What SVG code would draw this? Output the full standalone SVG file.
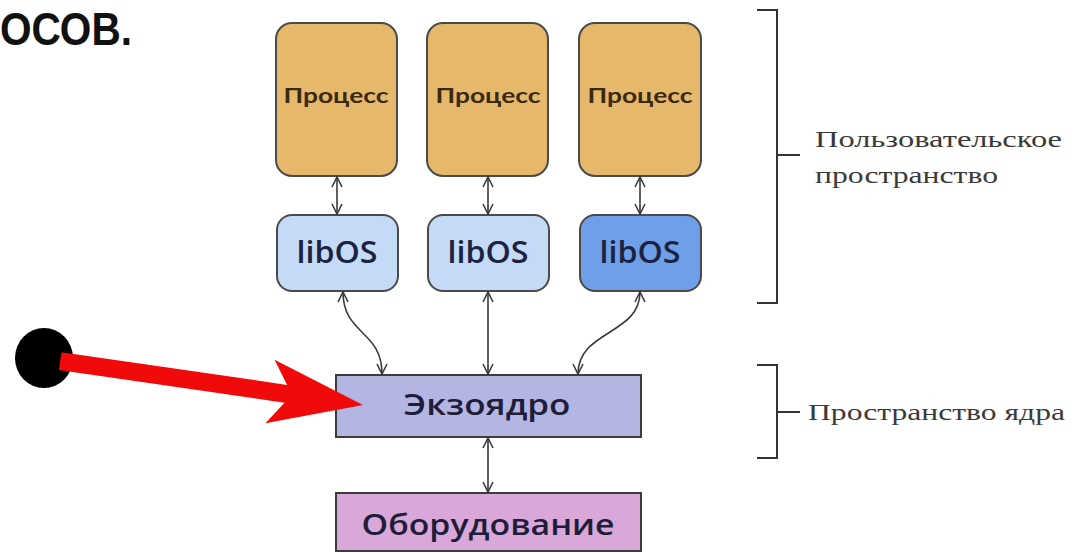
<svg xmlns="http://www.w3.org/2000/svg" width="1082" height="553" viewBox="0 0 1082 553">
<defs>
<marker id="ah" viewBox="0 0 12 12" refX="11" refY="6" markerWidth="12" markerHeight="12" markerUnits="userSpaceOnUse" orient="auto-start-reverse">
<path d="M1,1 L11,6 L1,11" fill="none" stroke="#3a3a3a" stroke-width="1.6"/>
</marker>
<style>
.proc rect{fill:#e6b86c;stroke:#4a4a4a;stroke-width:2}
.proc text{font-family:"Lato","Open Sans",sans-serif;font-weight:bold;font-size:21px;fill:#3a2a12;text-anchor:middle}
.lib rect{stroke:#4a4a4a;stroke-width:2}
.lib text{font-family:"Open Sans","Lato",sans-serif;font-weight:600;font-size:30px;fill:#1c2340;text-anchor:middle}
.big rect{stroke:#3c3c3c;stroke-width:2}
.big text{font-family:"Open Sans","Lato",sans-serif;font-weight:600;font-size:29px;fill:#1e1e3a;text-anchor:middle}
.conn path{fill:none;stroke:#3a3a3a;stroke-width:1.6;marker-start:url(#ah);marker-end:url(#ah)}
.brace{fill:none;stroke:#333;stroke-width:2}
.lbl{font-family:"Liberation Serif","DejaVu Serif",serif;font-size:24px;fill:#3a3a3a}
</style>
</defs>
<rect width="1082" height="553" fill="#ffffff"/>
<text x="0" y="45" font-family="Liberation Sans, Arial, sans-serif" font-weight="bold" font-size="46" fill="#111" textLength="132" lengthAdjust="spacingAndGlyphs">ОСОВ.</text>

<g id="proc1" class="proc"><rect x="276" y="23" width="121" height="153" rx="16"/><text x="336" y="103" textLength="105" lengthAdjust="spacingAndGlyphs">Процесс</text></g>
<g id="proc2" class="proc"><rect x="427" y="23" width="121" height="153" rx="16"/><text x="488" y="103" textLength="105" lengthAdjust="spacingAndGlyphs">Процесс</text></g>
<g id="proc3" class="proc"><rect x="579" y="23" width="122" height="153" rx="16"/><text x="640" y="103" textLength="105" lengthAdjust="spacingAndGlyphs">Процесс</text></g>

<g id="lib1" class="lib"><rect x="277" y="215" width="121" height="76" rx="15" fill="#c4daf6"/><text x="337" y="263" textLength="81" lengthAdjust="spacingAndGlyphs">libOS</text></g>
<g id="lib2" class="lib"><rect x="428" y="215" width="121" height="76" rx="15" fill="#c4daf6"/><text x="488" y="263" textLength="81" lengthAdjust="spacingAndGlyphs">libOS</text></g>
<g id="lib3" class="lib"><rect x="580" y="215" width="121" height="76" rx="15" fill="#6f9fe8"/><text x="640" y="263" textLength="81" lengthAdjust="spacingAndGlyphs">libOS</text></g>

<g id="exo" class="big"><rect x="336" y="375" width="305" height="62" fill="#b3b5e2"/><text x="487" y="415" textLength="167" lengthAdjust="spacingAndGlyphs">Экзоядро</text></g>
<g id="hw" class="big"><rect x="336" y="493" width="305" height="58" fill="#d9a8d8"/><text x="488" y="535" font-size="33" textLength="253" lengthAdjust="spacingAndGlyphs">Оборудование</text></g>

<g id="connectors" class="conn">
<path d="M337,177 L337,214"/>
<path d="M488,177 L488,214"/>
<path d="M640,177 L640,214"/>
<path d="M343,292 C343,335 382,330 382,374"/>
<path d="M488,292 L488,374"/>
<path d="M640,292 C640,335 578,330 578,374"/>
<path d="M488,438 L488,492"/>
</g>

<g id="user-space">
<path class="brace" d="M757,10 L777,10 L777,303 L757,303 M777,155 L800,155"/>
<text class="lbl" x="815" y="147" textLength="247" lengthAdjust="spacingAndGlyphs">Пользовательское</text>
<text class="lbl" x="815" y="183" textLength="183" lengthAdjust="spacingAndGlyphs">пространство</text>
</g>
<g id="kernel-space">
<path class="brace" d="M757,365 L777,365 L777,458 L757,458 M777,412 L800,412"/>
<text class="lbl" x="808" y="420" textLength="257" lengthAdjust="spacingAndGlyphs">Пространство ядра</text>
</g>

<g id="pointer">
<ellipse cx="44" cy="358" rx="29" ry="30" fill="#000"/>
<polygon transform="translate(363,405) rotate(8.26)" points="0,0 -94,-32 -78,-9 -306,-9 -306,9 -78,9 -94,32" fill="#f00a0a"/>
</g>
</svg>
